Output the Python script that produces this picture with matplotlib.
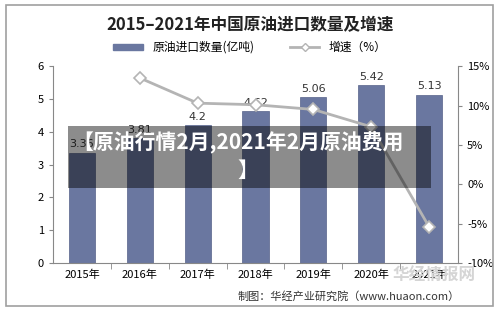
import matplotlib.pyplot as plt
from matplotlib.patches import Rectangle
from matplotlib.lines import Line2D

plt.rcParams['font.family'] = ['Noto Sans CJK SC', 'DejaVu Sans']

years = ["2015年", "2016年", "2017年", "2018年", "2019年", "2020年", "2021年"]
volume = [3.36, 3.81, 4.2, 4.62, 5.06, 5.42, 5.13]
growth = [None, 13.5, 10.3, 10.1, 9.5, 7.3, -5.4]

bar_color = "#6a77a0"
line_color = "#b4b4b4"

fig = plt.figure(figsize=(5, 3.15), dpi=100)
fig.patch.set_facecolor("white")
fig.add_artist(Rectangle((0.012, 0.03), 0.974, 0.955, transform=fig.transFigure,
                         fill=False, edgecolor="#a0a0a0", lw=1.2))

ax = fig.add_axes([0.106, 0.165, 0.81, 0.625])
x = list(range(len(years)))
ax.bar(x, volume, width=0.45, color=bar_color, edgecolor="#56628a", lw=0.5, zorder=2)
for xi, v in zip(x, volume):
    ax.text(xi, v + 0.1, f"{v:g}", ha="center", va="bottom", fontsize=8, color="#333333",
            family="DejaVu Sans")
ax.set_ylim(0, 6)
ax.set_xlim(-0.5, len(years) - 0.5)
ax.set_yticks(range(7))
ax.set_xticks(x)
ax.set_xticklabels(years, fontsize=8)
ax.set_xticks([i + 0.5 for i in x[:-1]], minor=True)
ax.tick_params(axis="x", which="major", length=0, pad=5)
ax.tick_params(axis="x", which="minor", length=4, color="#888888")
ax.tick_params(axis="y", labelsize=8, length=3, color="#888888")
for s in ["top", "right"]:
    ax.spines[s].set_visible(False)
for s in ["left", "bottom"]:
    ax.spines[s].set_color("#888888")

ax2 = ax.twinx()
gx = [xi for xi, g in zip(x, growth) if g is not None]
gy = [g for g in growth if g is not None]
ax2.plot(gx, gy, color=line_color, lw=2, marker="D", markersize=6,
         markerfacecolor="white", markeredgecolor=line_color, markeredgewidth=1.2, zorder=3)
ax2.set_ylim(-10, 15)
ax2.set_yticks(range(-10, 16, 5))
ax2.set_yticklabels([f"{t}%" for t in range(-10, 16, 5)])
ax2.tick_params(axis="y", labelsize=8, length=3, color="#888888")
for s in ["top", "left", "bottom"]:
    ax2.spines[s].set_visible(False)
ax2.spines["right"].set_color("#888888")

fig.text(0.5, 0.92, "2015–2021年中国原油进口数量及增速", ha="center", va="center",
         fontsize=12, fontweight="bold", color="#222222")

handles = [Rectangle((0, 0), 1, 1, color=bar_color),
           Line2D([], [], color=line_color, lw=2, marker="D", markersize=4,
                  markerfacecolor="white", markeredgecolor=line_color)]
fig.legend(handles, ["原油进口数量(亿吨)", "增速（%）"], loc="center", ncol=2,
           bbox_to_anchor=(0.5, 0.85), frameon=False, fontsize=8.5,
           handlelength=2.5, handleheight=0.4, columnspacing=3)

# watermark
fig.text(0.786, 0.124, "华经情报网", fontsize=12, color="#d5d5d5", fontweight="bold",
         va="center", ha="left", zorder=0)
fig.text(0.475, 0.058, "制图：华经产业研究院（www.huaon.com）", fontsize=8, color="#333333",
         va="center")

# overlay banner
fig.add_artist(Rectangle((0.136, 0.403), 0.726, 0.197, transform=fig.transFigure,
                         facecolor="black", alpha=0.45, edgecolor="none", zorder=10))
fig.text(0.145, 0.548, "【原油行情2月,2021年2月原油费用", fontsize=15, fontweight="bold",
         color="white", va="center", zorder=11)
fig.text(0.475, 0.458, "】", fontsize=15, fontweight="bold", color="white", va="center", zorder=11)

fig.savefig("out.png", dpi=100)
